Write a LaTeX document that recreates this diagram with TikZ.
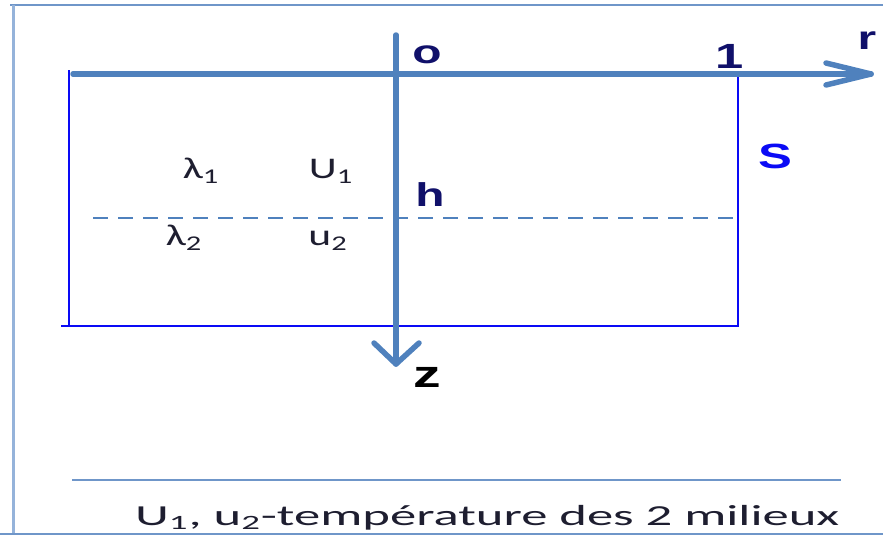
\documentclass[tikz,border=0pt]{standalone}
\usepackage{fontspec}
\usepackage{graphicx}
\setmainfont{Carlito}
\newfontfamily\arialb{Liberation Sans}[BoldFont={* Bold}]
\definecolor{axisblue}{HTML}{4F81BD}
\definecolor{framelight}{HTML}{95B3DA}
\definecolor{framemid}{HTML}{6F96C9}
\definecolor{rectblue}{HTML}{0A0AF5}
\definecolor{navy}{HTML}{10106A}
\definecolor{darktxt}{HTML}{1E1E30}
\newcommand{\sxx}[1]{\scalebox{1.45}[1]{#1}}
\tikzset{
  axisline/.style={draw=axisblue, line width=5.5pt, line cap=round, line join=round},
  rectline/.style={draw=rectblue, line width=2.3pt},
  dashline/.style={draw=axisblue, line width=1.8pt, dash pattern=on 15pt off 10pt},
  framel/.style={draw=framemid, line width=2pt},
  lbl/.style={inner sep=0pt, text=navy, font=\arialb\bfseries\fontsize{33}{36}\selectfont},
  med/.style={inner sep=0pt, text=darktxt, font=\fontsize{30}{34}\selectfont}
}
\begin{document}
\begin{tikzpicture}[x=1pt,y=-1pt]
\useasboundingbox (0,0) rectangle (883,536);
% frame
\draw[framel] (10,5) -- (883,5);
\draw[draw=framelight, line width=3pt] (13,5) -- (13,533);
\draw[framel] (0,534) -- (883,534);
\draw[framel] (72,480) -- (841,480);
% rectangle S
\coordinate (rtl) at (69,74);
\coordinate (rbr) at (738,326);
\draw[rectline] (69,70) -- (69,326);
\draw[rectline] (61,326) -- (rbr) -- (738,74);
% dashed interface
\coordinate (d1) at (93,218);
\coordinate (d2) at (742,218);
\draw[dashline] (d1) -- (d2);
% axes
\coordinate (rstart) at (73,74);
\coordinate (rtip) at (871,74);
\coordinate (zstart) at (396,35);
\coordinate (ztip) at (396,364);
\draw[axisline] (rstart) -- (rtip);
\draw[axisline] (826,63) -- (rtip) -- (826,85);
\draw[axisline] (zstart) -- (ztip);
\draw[axisline] (374,343) -- (ztip) -- (419,343);
% labels
\node[lbl] (o) at (427,55) {\sxx{o}};
\node[lbl, font=\arialb\bfseries\fontsize{35}{38}\selectfont] (one) at (730,56) {\sxx{1}};
\node[lbl] (r) at (867,41) {\sxx{r}};
\node[lbl, text=rectblue, font=\arialb\bfseries\fontsize{35}{40}\selectfont] (S) at (775,156) {\sxx{S}};
\node[lbl] (h) at (430,195) {\sxx{h}};
\node[lbl, text=black, font=\arialb\bfseries\fontsize{38}{42}\selectfont] (z) at (427,377) {\sxx{z}};
\node[med] (l1) at (201,171) {\sxx{λ\textsubscript{1}}};
\node[med] (U1) at (331,171) {\sxx{U\textsubscript{1}}};
\node[med] (l2) at (184,238) {\sxx{λ\textsubscript{2}}};
\node[med] (u2) at (328,241) {\sxx{u\textsubscript{2}}};
\node[med, font=\fontsize{29}{32}\selectfont, anchor=base west] (cap) at (135,525) {\resizebox{704pt}{\height}{U\textsubscript{1}, u\textsubscript{2}-température des 2 milieux}};
\end{tikzpicture}
\end{document}
